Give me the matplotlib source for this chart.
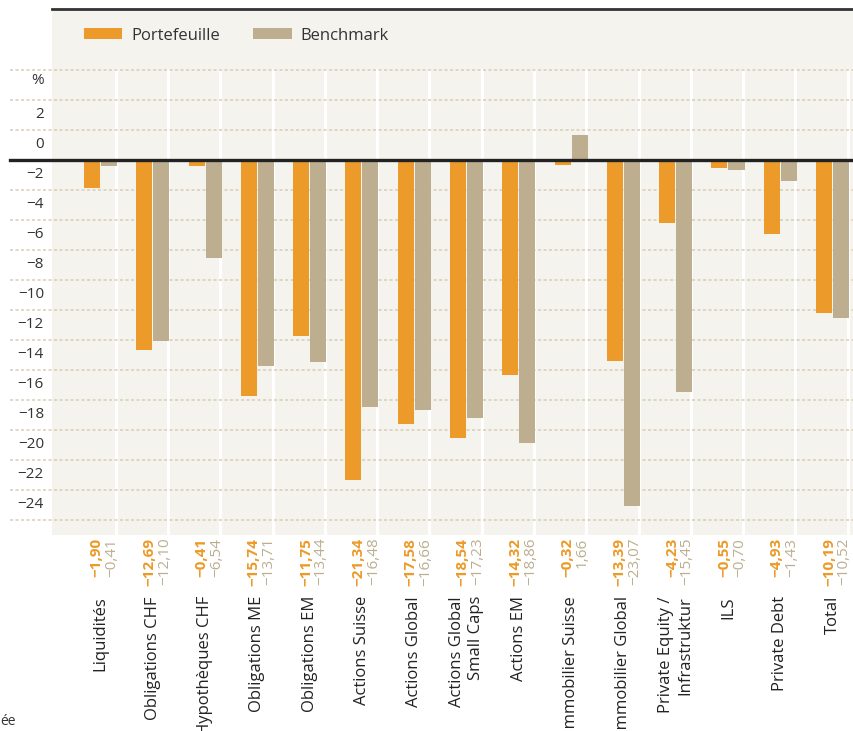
import numpy as np
import matplotlib.pyplot as plt
import matplotlib.transforms as mtransforms

plt.rcParams['font.family'] = ['Open Sans', 'DejaVu Sans']

categories = ["Liquidités", "Obligations CHF", "Hypothèques CHF", "Obligations ME",
              "Obligations EM", "Actions Suisse", "Actions Global",
              "Actions Global\nSmall Caps", "Actions EM", "Immobilier Suisse",
              "Immobilier Global", "Private Equity /\nInfrastruktur", "ILS",
              "Private Debt", "Total"]
portefeuille = [-1.90, -12.69, -0.41, -15.74, -11.75, -21.34, -17.58, -18.54,
                -14.32, -0.32, -13.39, -4.23, -0.55, -4.93, -10.19]
benchmark = [-0.41, -12.10, -6.54, -13.71, -13.44, -16.48, -16.66, -17.23,
             -18.86, 1.66, -23.07, -15.45, -0.70, -1.43, -10.52]
ytick_values = [4, 2, 0, -2, -4, -6, -8, -10, -12, -14, -16, -18, -20, -22, -24]

ORANGE = "#EC9A29"
BEIGE = "#BCAE8F"
BG = "#F4F3EE"
GRID = "#D8CDB5"


def fmt(v):
    s = f"{abs(v):.2f}".replace(".", ",")
    return ("\u2212" + s) if v < 0 else s


fig = plt.figure(figsize=(8.54, 7.31), dpi=100)
ax = fig.add_axes([52 / 854, (731 - 535) / 731, 802 / 854, (535 - 9) / 731])
ax.set_facecolor(BG)

x = np.arange(len(categories))
w = 0.306
ax.set_xlim(-0.927, 14.41)
ax.set_ylim(-25, 10.05)

# white separators behind bars
for xi in x:
    ax.plot([xi + 0.29, xi + 0.29], [-25, 6], color="white", lw=2.2, zorder=1)

ax.bar(x - 0.163, portefeuille, w, color=ORANGE, label="Portefeuille", zorder=3)
ax.bar(x + 0.163, benchmark, w, color=BEIGE, label="Benchmark", zorder=3)

# gridlines extending to the left of the plot area
trans = mtransforms.blended_transform_factory(ax.transAxes, ax.transData)
for v in [6] + ytick_values:
    if v == 0:
        continue
    ax.plot([-0.052, 1], [v, v], transform=trans, color=GRID, lw=1.1,
            linestyle=(0, (2, 1.6)), clip_on=False, zorder=2)
ax.plot([-0.052, 1], [0, 0], transform=trans, color="#222222", lw=2.4,
        clip_on=False, zorder=4)

# y labels sit between gridlines
ax.text(-0.01, 5.3, "%", transform=trans, ha="right", va="center",
        fontsize=11, color="#333333")
for v in ytick_values[1:]:
    lab = fmt(v).split(",")[0] if v != 0 else "0"
    ax.text(-0.01, v + 1, lab, transform=trans, ha="right", va="center",
            fontsize=11, color="#333333")

ax.set_xticks([])
ax.set_yticks([])
for s in ["left", "right", "bottom"]:
    ax.spines[s].set_visible(False)
ax.spines["top"].set_color("#333333")
ax.spines["top"].set_linewidth(2)

# value labels and category labels below the plot
for xi, p, b, c in zip(x, portefeuille, benchmark, categories):
    ax.annotate(fmt(p), xy=(xi - 0.07, 0), xycoords=("data", "axes fraction"),
                xytext=(0, -2), textcoords="offset points", rotation=90,
                ha="center", va="top", fontsize=11, fontweight="bold",
                color=ORANGE)
    ax.annotate(fmt(b), xy=(xi + 0.22, 0), xycoords=("data", "axes fraction"),
                xytext=(0, -2), textcoords="offset points", rotation=90,
                ha="center", va="top", fontsize=11, color=BEIGE)
    ax.annotate(c, xy=(xi, 0), xycoords=("data", "axes fraction"),
                xytext=(0, -44), textcoords="offset points", rotation=90,
                ha="center", va="top", multialignment="right",
                fontsize=12, color="#222222", annotation_clip=False)

ax.legend(loc="upper left", bbox_to_anchor=(0.025, 0.987), ncol=2,
          frameon=False, fontsize=12, handlelength=2.3, handleheight=0.66,
          handletextpad=0.55, columnspacing=2.0, labelcolor="#333333",
          borderaxespad=0.3)

fig.text(0.0, 0.003, "ée", fontsize=10, color="#333333", ha="left", va="bottom")

fig.savefig("out.png", dpi=100)
